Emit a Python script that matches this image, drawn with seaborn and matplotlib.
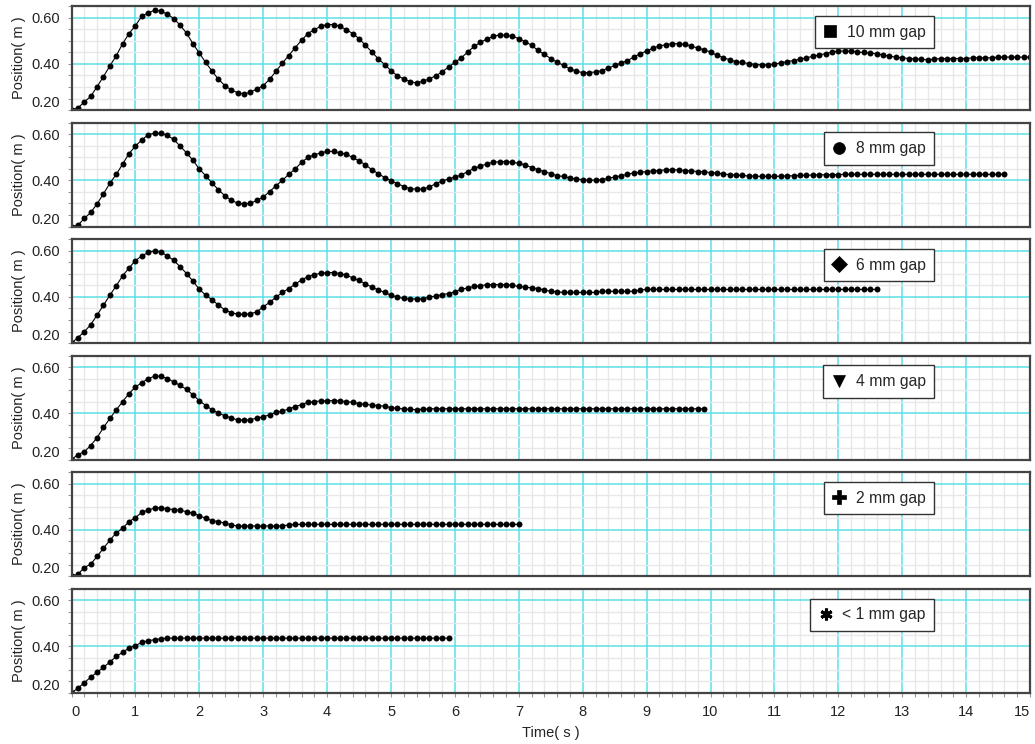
import numpy as np
import pandas as pd
import matplotlib
matplotlib.use("Agg")
import matplotlib.pyplot as plt
import seaborn as sns
from matplotlib.lines import Line2D
from matplotlib.ticker import MultipleLocator, FormatStrFormatter

# sample interval of the logger (s)
dt = 0.1

gap_labels = ["10 mm gap", "8 mm gap", "6 mm gap", "4 mm gap", "2 mm gap", "< 1 mm gap"]
legend_markers = ["s", "o", "D", "v", "P", (6, 2, 0)]

pos_10mm = [
    0.200, 0.209, 0.235, 0.259, 0.301, 0.345, 0.391, 0.435, 0.487, 0.531,
    0.565, 0.606, 0.620, 0.632, 0.628, 0.615, 0.596, 0.567, 0.533, 0.487,
    0.446, 0.406, 0.368, 0.333, 0.306, 0.287, 0.275, 0.270, 0.277, 0.291,
    0.306, 0.333, 0.368, 0.403, 0.436, 0.470, 0.502, 0.531, 0.548, 0.562,
    0.570, 0.570, 0.562, 0.548, 0.531, 0.509, 0.480, 0.451, 0.422, 0.397,
    0.370, 0.348, 0.335, 0.323, 0.317, 0.325, 0.335, 0.348, 0.365, 0.386,
    0.406, 0.426, 0.451, 0.475, 0.493, 0.507, 0.519, 0.525, 0.523, 0.519,
    0.509, 0.496, 0.480, 0.458, 0.441, 0.423, 0.407, 0.393, 0.378, 0.368,
    0.362, 0.362, 0.365, 0.371, 0.381, 0.393, 0.403, 0.414, 0.429, 0.444,
    0.455, 0.468, 0.477, 0.483, 0.487, 0.487, 0.484, 0.477, 0.468, 0.461,
    0.451, 0.437, 0.427, 0.417, 0.410, 0.406, 0.401, 0.397, 0.396, 0.396,
    0.399, 0.404, 0.410, 0.414, 0.420, 0.426, 0.432, 0.438, 0.444, 0.451,
    0.455, 0.455, 0.455, 0.451, 0.449, 0.446, 0.444, 0.438, 0.433, 0.429,
    0.426, 0.423, 0.422, 0.420, 0.417, 0.420, 0.423, 0.423, 0.423, 0.423,
    0.423, 0.426, 0.426, 0.426, 0.426, 0.429, 0.429, 0.429, 0.429, 0.429,
    0.429,
]

pos_8mm = [
    0.200, 0.206, 0.235, 0.261, 0.298, 0.342, 0.387, 0.426, 0.470, 0.516,
    0.548, 0.575, 0.597, 0.604, 0.604, 0.594, 0.577, 0.548, 0.519, 0.487,
    0.449, 0.420, 0.388, 0.359, 0.333, 0.314, 0.301, 0.298, 0.301, 0.313,
    0.328, 0.351, 0.377, 0.400, 0.426, 0.449, 0.478, 0.499, 0.510, 0.519,
    0.525, 0.525, 0.519, 0.513, 0.499, 0.484, 0.467, 0.446, 0.429, 0.412,
    0.399, 0.386, 0.373, 0.364, 0.362, 0.362, 0.371, 0.386, 0.397, 0.406,
    0.414, 0.423, 0.438, 0.452, 0.461, 0.472, 0.478, 0.481, 0.481, 0.478,
    0.474, 0.467, 0.455, 0.446, 0.438, 0.429, 0.420, 0.417, 0.409, 0.406,
    0.403, 0.401, 0.401, 0.403, 0.409, 0.414, 0.420, 0.426, 0.432, 0.435,
    0.438, 0.441, 0.442, 0.446, 0.446, 0.445, 0.442, 0.441, 0.438, 0.438,
    0.433, 0.432, 0.427, 0.425, 0.423, 0.421, 0.419, 0.418, 0.417, 0.417,
    0.417, 0.418, 0.419, 0.420, 0.421, 0.422, 0.423, 0.424, 0.424, 0.425,
    0.425, 0.426, 0.426, 0.426, 0.426, 0.426, 0.426, 0.426, 0.426, 0.426,
    0.426, 0.426, 0.426, 0.426, 0.426, 0.426, 0.426, 0.426, 0.426, 0.426,
    0.426, 0.426, 0.426, 0.426, 0.426, 0.426, 0.426,
]

pos_6mm = [
    0.200, 0.224, 0.249, 0.280, 0.321, 0.364, 0.407, 0.448, 0.491, 0.525,
    0.557, 0.577, 0.592, 0.599, 0.594, 0.577, 0.558, 0.530, 0.501, 0.468,
    0.433, 0.407, 0.387, 0.364, 0.344, 0.332, 0.325, 0.325, 0.327, 0.335,
    0.357, 0.376, 0.399, 0.419, 0.436, 0.455, 0.473, 0.488, 0.496, 0.502,
    0.505, 0.505, 0.501, 0.494, 0.482, 0.471, 0.456, 0.442, 0.430, 0.419,
    0.407, 0.399, 0.393, 0.391, 0.391, 0.391, 0.399, 0.404, 0.410, 0.414,
    0.422, 0.433, 0.439, 0.445, 0.448, 0.453, 0.453, 0.453, 0.453, 0.450,
    0.445, 0.442, 0.439, 0.436, 0.430, 0.424, 0.422, 0.419, 0.419, 0.419,
    0.419, 0.419, 0.419, 0.424, 0.424, 0.424, 0.424, 0.424, 0.424, 0.430,
    0.432, 0.432, 0.432, 0.432, 0.432, 0.432, 0.432, 0.432, 0.432, 0.432,
    0.432, 0.432, 0.432, 0.432, 0.432, 0.432, 0.432, 0.432, 0.432, 0.432,
    0.432, 0.432, 0.432, 0.432, 0.432, 0.432, 0.432, 0.432, 0.432, 0.432,
    0.432, 0.432, 0.432, 0.432, 0.432, 0.432, 0.432,
]

pos_4mm = [
    0.200, 0.222, 0.234, 0.261, 0.295, 0.339, 0.378, 0.415, 0.451, 0.486,
    0.514, 0.533, 0.550, 0.561, 0.561, 0.550, 0.536, 0.521, 0.504, 0.480,
    0.455, 0.434, 0.416, 0.400, 0.390, 0.380, 0.372, 0.372, 0.372, 0.380,
    0.385, 0.394, 0.404, 0.410, 0.419, 0.429, 0.438, 0.448, 0.451, 0.454,
    0.455, 0.455, 0.454, 0.451, 0.448, 0.442, 0.439, 0.436, 0.434, 0.431,
    0.425, 0.422, 0.419, 0.417, 0.416, 0.418, 0.420, 0.420, 0.420, 0.420,
    0.420, 0.420, 0.420, 0.420, 0.420, 0.420, 0.420, 0.420, 0.420, 0.420,
    0.420, 0.420, 0.420, 0.420, 0.420, 0.420, 0.420, 0.420, 0.420, 0.420,
    0.420, 0.420, 0.420, 0.420, 0.420, 0.420, 0.420, 0.420, 0.420, 0.420,
    0.420, 0.420, 0.420, 0.420, 0.420, 0.420, 0.420, 0.420, 0.420, 0.420,
]

pos_2mm = [
    0.200, 0.208, 0.237, 0.252, 0.285, 0.321, 0.355, 0.387, 0.407, 0.436,
    0.453, 0.476, 0.486, 0.494, 0.496, 0.491, 0.488, 0.485, 0.479, 0.471,
    0.462, 0.450, 0.440, 0.436, 0.429, 0.422, 0.417, 0.417, 0.417, 0.417,
    0.417, 0.417, 0.417, 0.417, 0.422, 0.424, 0.424, 0.424, 0.424, 0.424,
    0.424, 0.424, 0.424, 0.424, 0.424, 0.424, 0.424, 0.424, 0.424, 0.424,
    0.424, 0.424, 0.424, 0.424, 0.424, 0.424, 0.424, 0.424, 0.424, 0.424,
    0.424, 0.424, 0.424, 0.424, 0.424, 0.424, 0.424, 0.424, 0.424, 0.424,
    0.424,
]

pos_1mm = [
    0.200, 0.219, 0.243, 0.267, 0.288, 0.310, 0.332, 0.357, 0.374, 0.393,
    0.404, 0.417, 0.425, 0.429, 0.433, 0.436, 0.436, 0.436, 0.436, 0.436,
    0.436, 0.436, 0.436, 0.436, 0.436, 0.436, 0.436, 0.436, 0.436, 0.436,
    0.436, 0.436, 0.436, 0.436, 0.436, 0.436, 0.436, 0.436, 0.436, 0.436,
    0.436, 0.436, 0.436, 0.436, 0.436, 0.436, 0.436, 0.436, 0.436, 0.436,
    0.436, 0.436, 0.436, 0.436, 0.436, 0.436, 0.436, 0.436, 0.436, 0.436,
]

series = [pos_10mm, pos_8mm, pos_6mm, pos_4mm, pos_2mm, pos_1mm]

frames = []
for label, vals in zip(gap_labels, series):
    t = np.round(np.arange(len(vals)) * dt, 1)
    frames.append(pd.DataFrame({"gap": label, "time": t, "position": vals}))
df = pd.concat(frames, ignore_index=True)

sns.set_style("white")
plt.rcParams["font.family"] = ["Liberation Sans", "DejaVu Sans"]

cyan = "#5cdfe6"
frame_col = "#444444"

fig = plt.figure(figsize=(10.35, 7.44), dpi=100)
axes = fig.subplots(6, 1, sharex=True)
fig.subplots_adjust(left=0.0691, right=0.9952, top=0.9919, bottom=0.069, hspace=0.12)

for i, (ax, label, mk) in enumerate(zip(axes, gap_labels, legend_markers)):
    sub = df[df["gap"] == label]
    sns.lineplot(data=sub, x="time", y="position", ax=ax, color="black",
                 linewidth=0.8, marker="o", markersize=4.3, markeredgewidth=0,
                 estimator=None, legend=False)

    ax.set_xlim(0, 15)
    ax.set_ylim(0.2, 0.65)
    ax.xaxis.set_major_locator(MultipleLocator(1))
    ax.xaxis.set_minor_locator(MultipleLocator(0.2))
    ax.yaxis.set_major_locator(MultipleLocator(0.2))
    ax.yaxis.set_minor_locator(MultipleLocator(0.05))
    ax.yaxis.set_major_formatter(FormatStrFormatter("%.2f"))

    ax.set_axisbelow(True)
    ax.grid(which="minor", color="#e8e8e8", linewidth=1.0)
    ax.grid(which="major", color=cyan, linewidth=1.1)

    for sp in ax.spines.values():
        sp.set_color(frame_col)
        sp.set_linewidth(1.6)

    ax.tick_params(axis="y", which="both", direction="out", length=3,
                   color="#999999", width=0.8, labelsize=10.5, pad=5,
                   left=True, labelcolor="#222222")
    ax.tick_params(axis="x", which="both", direction="out", length=3,
                   color="#999999", width=0.8, labelsize=10.5, pad=6,
                   bottom=(i == 5), labelcolor="#222222")

    # the bottom label sits inside the panel, as in the logger output
    for tl in ax.get_yticklabels():
        if tl.get_text() == "0.20":
            tl.set_verticalalignment("bottom")

    ax.set_ylabel("Position( m )", fontsize=10.5, color="#222222")
    ax.yaxis.set_label_coords(-0.047, 0.5)
    ax.set_xlabel("")

    handle = Line2D([], [], marker=mk, linestyle="none", color="black",
                    markersize=8.5 if mk != "P" else 9.5,
                    markeredgewidth=2.2 if mk == (6, 2, 0) else 0.5,
                    label=label)
    leg = ax.legend(handles=[handle], loc="upper right",
                    bbox_to_anchor=(0.9, 0.905), borderaxespad=0,
                    frameon=True, fancybox=False, framealpha=1,
                    edgecolor="#333333", fontsize=11.3, handlelength=0.9,
                    handletextpad=0.6, borderpad=0.55)
    leg.get_frame().set_linewidth(1.0)

# end labels are pushed inside the axis span, like the logger does
bottom_ax = axes[-1]
fig.canvas.draw()
xlabels = bottom_ax.get_xticklabels()
for tl in xlabels:
    if tl.get_text() == "0":
        tl.set_horizontalalignment("left")
    elif tl.get_text() == "15":
        tl.set_horizontalalignment("right")

bottom_ax.set_xlabel("Time( s )", fontsize=10.5, color="#222222", labelpad=5)

fig.savefig("out.png", dpi=100)
